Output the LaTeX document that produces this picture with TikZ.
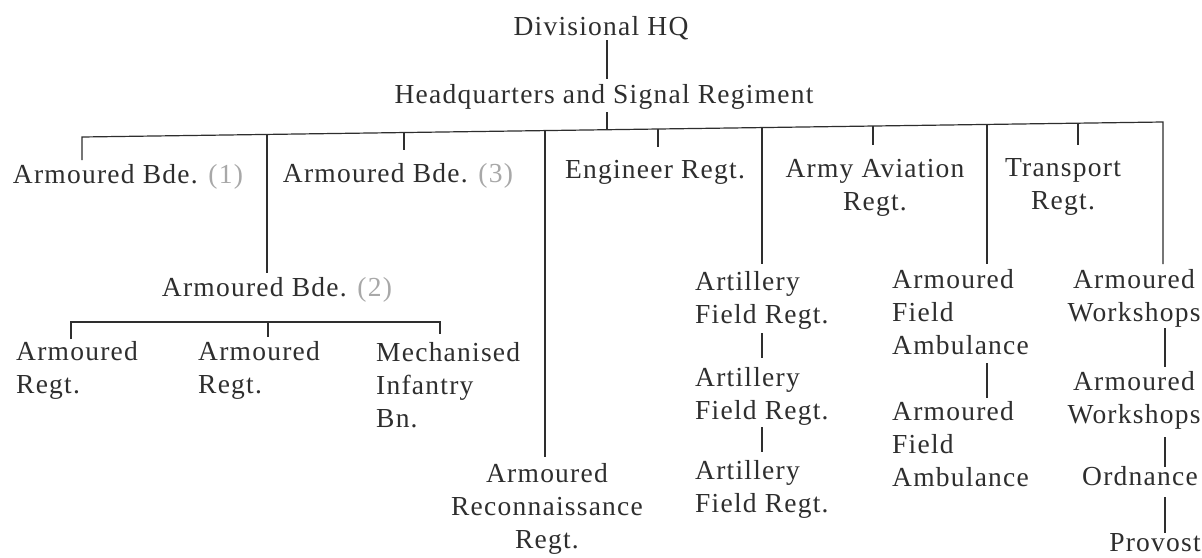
\documentclass[tikz,border=0pt]{standalone}
\usepackage{fontspec}
\setmainfont{Liberation Serif}[LetterSpace=4.5]
\definecolor{ink}{HTML}{2E2E2E}
\definecolor{faint}{HTML}{A8A8A8}
\begin{document}
\begin{tikzpicture}[x=1pt,y=-1pt,
  lbl/.style={inner sep=0pt,text=ink,font=\fontsize{27.5}{33}\selectfont},
  ll/.style={lbl,align=left,anchor=base west},
  cl/.style={lbl,align=center,anchor=base},
  conn/.style={draw=ink,line width=1.2pt}]
\useasboundingbox[fill=white] (0,0) rectangle (1202,557);
% nodes (positioned by the baseline of their last line)
\node[cl] (hq) at (601,35) {Divisional HQ};
\node[cl] (sig) at (604,103) {Headquarters and Signal Regiment};
\node[cl] (b1) at (128,183) {Armoured Bde. \textcolor{faint}{(1)}};
\node[cl] (b3) at (398,182) {Armoured Bde. \textcolor{faint}{(3)}};
\node[cl] (eng) at (655,178) {Engineer Regt.};
\node[cl] (aav) at (875,210) {Army Aviation\\Regt.};
\node[cl] (tr) at (1063,209) {Transport\\Regt.};
\node[cl] (b2) at (277,296) {Armoured Bde. \textcolor{faint}{(2)}};
\node[ll] (ar1) at (16,393) {Armoured\\Regt.};
\node[ll] (ar2) at (198,393) {Armoured\\Regt.};
\node[ll] (mib) at (376,427) {Mechanised\\Infantry\\Bn.};
\node[cl] (rec) at (547,548) {Armoured\\Reconnaissance\\Regt.};
\node[ll] (af1) at (695,323) {Artillery\\Field Regt.};
\node[ll] (af2) at (695,419) {Artillery\\Field Regt.};
\node[ll] (af3) at (695,512) {Artillery\\Field Regt.};
\node[ll] (am1) at (892,354) {Armoured\\Field\\Ambulance};
\node[ll] (am2) at (892,486) {Armoured\\Field\\Ambulance};
\node[cl] (ws1) at (1134,321) {Armoured\\Workshops};
\node[cl] (ws2) at (1134,423) {Armoured\\Workshops};
\node[cl] (ord) at (1140,485) {Ordnance};
\node[cl] (prov) at (1155,551) {Provost};
% main bar (slightly tilted, as in the scan)
\coordinate (barL) at (82,137);
\coordinate (barR) at (1163,122);
\coordinate (sbL) at (71,322);
\coordinate (sbR) at (440,322);
% top connectors
\draw[conn] (607,40) coordinate (hqb) -- (607,79) coordinate (sigt);
\draw[conn] (607,112) coordinate (sigb) -- (607,129.7) coordinate (sigbar);
% bar with outer drops
\draw[conn] (82,160) coordinate (b1t) -- (barL) -- (barR) -- (1163,264) coordinate (ws1t);
\draw[conn] (267,134.4) -- (267,273) coordinate (b2t);
\draw[conn] (404,132.5) -- (404,150) coordinate (b3t);
\draw[conn] (545,130.6) -- (545,457) coordinate (rect);
\draw[conn] (658,129) -- (658,147) coordinate (engt);
\draw[conn] (762,127.6) -- (762,264) coordinate (af1t);
\draw[conn] (873,126) -- (873,145) coordinate (aavt);
\draw[conn] (987,124.4) -- (987,264) coordinate (am1t);
\draw[conn] (1078,123.2) -- (1078,145) coordinate (trt);
% sub bar of Armoured Bde. (2)
\draw[conn] (71,339) coordinate (ar1t) -- (sbL) -- (sbR) -- (440,334) coordinate (mibt);
\draw[conn] (268,322) -- (268,337) coordinate (ar2t);
% chains
\draw[conn] (762,333) coordinate (af1b) -- (762,358) coordinate (af2t);
\draw[conn] (762,427) coordinate (af2b) -- (762,452) coordinate (af3t);
\draw[conn] (987,363) coordinate (am1b) -- (987,398) coordinate (am2t);
\draw[conn] (1165,328) coordinate (ws1b) -- (1165,367) coordinate (ws2t);
\draw[conn] (1165,437) coordinate (ws2b) -- (1165,467) coordinate (ordt);
\draw[conn] (1165,497) coordinate (ordb) -- (1165,533) coordinate (provt);
\end{tikzpicture}
\end{document}
